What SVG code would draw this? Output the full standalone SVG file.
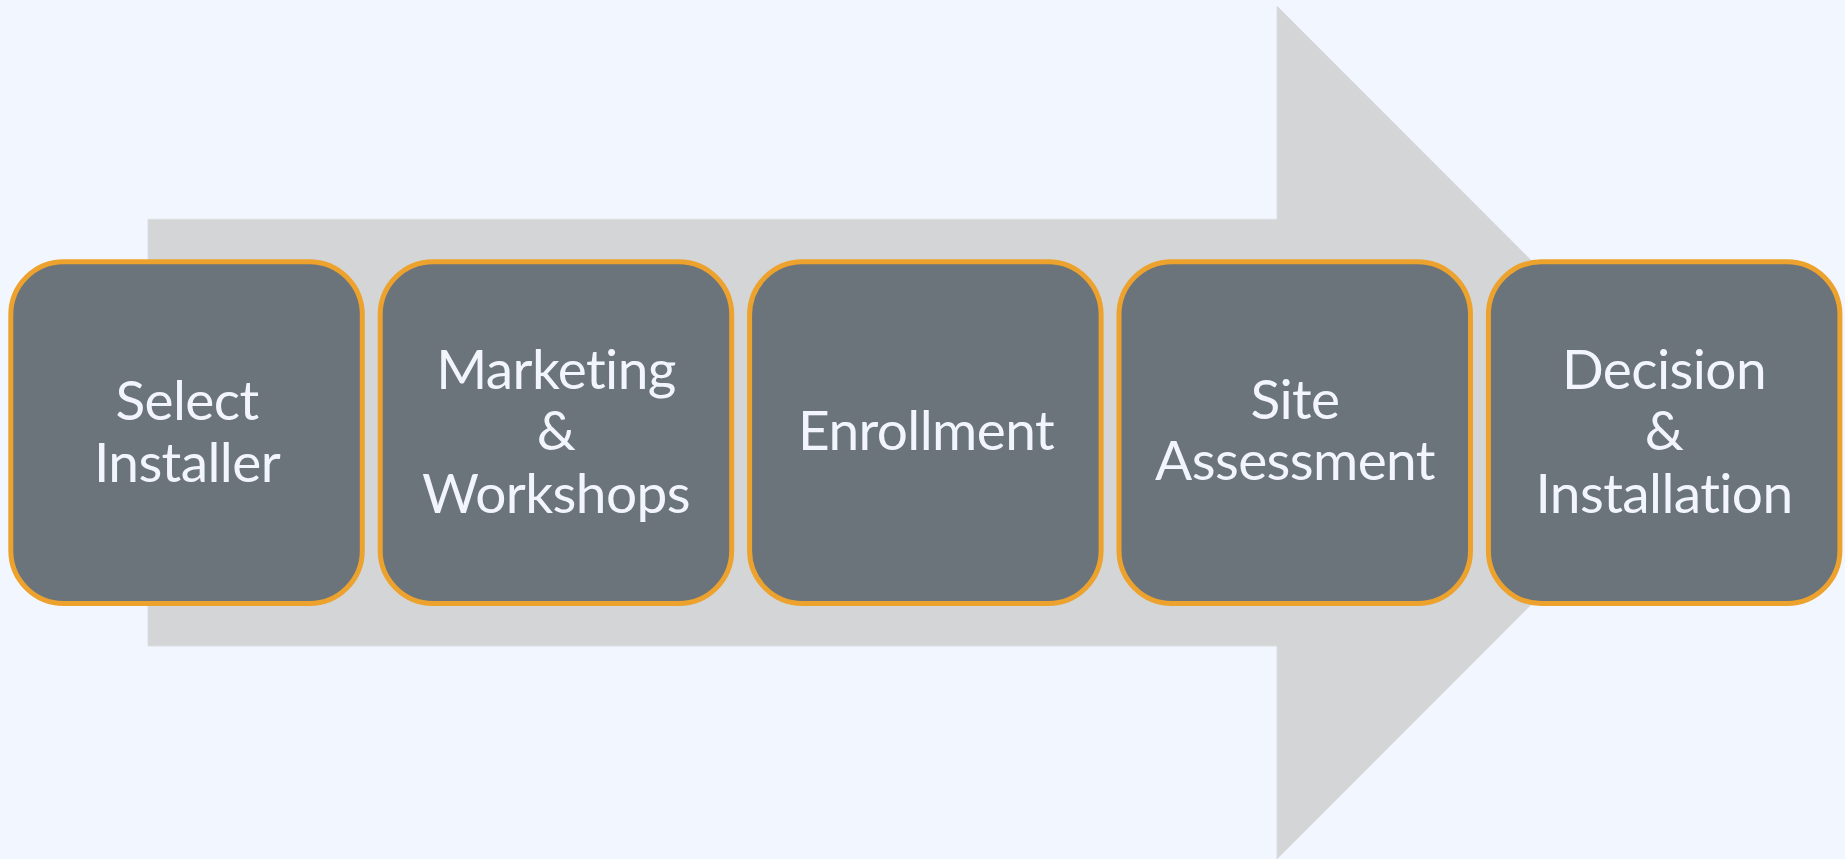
<svg xmlns="http://www.w3.org/2000/svg" width="1845" height="859" viewBox="0 0 1845 859">
<style>
.box{fill:#6b737b;stroke:#eda22d;stroke-width:5}
.lbl{font-family:Lato,"Open Sans","Liberation Sans",sans-serif;font-size:55px;letter-spacing:-0.6px;fill:#f2f5fc;text-anchor:middle;font-variant-ligatures:none;font-feature-settings:"liga" 0,"clig" 0}
</style>
<rect width="1845" height="859" fill="#f2f6fe"/>
<g id="arrow">
<polygon points="148,219.3 1277,219.3 1277,6 1703,432.5 1277,859 1277,646 148,646" fill="#d4d5d7" stroke="#dcdee2" stroke-width="1"/>
</g>
<g id="connectors"></g>
<g id="node1">
<rect class="box" x="10.8" y="261.8" width="351.5" height="341.7" rx="53"/>
<text class="lbl" x="187" y="420">Select</text>
<text class="lbl" x="187" y="481.7">Installer</text>
</g>
<g id="node2">
<rect class="box" x="380.2" y="261.8" width="351.5" height="341.7" rx="53"/>
<text class="lbl" x="556" y="389.3">Marketing</text>
<text class="lbl" x="556" y="450">&amp;</text>
<text class="lbl" x="556" y="512.7">Workshops</text>
</g>
<g id="node3">
<rect class="box" x="749.6" y="261.8" width="351.5" height="341.7" rx="53"/>
<text class="lbl" x="926" y="450">Enrollment</text>
</g>
<g id="node4">
<rect class="box" x="1119" y="261.8" width="351.5" height="341.7" rx="53"/>
<text class="lbl" x="1295" y="419.3">Site</text>
<text class="lbl" x="1295" y="480">Assessment</text>
</g>
<g id="node5">
<rect class="box" x="1488.4" y="261.8" width="351.5" height="341.7" rx="53"/>
<text class="lbl" x="1664" y="389.3">Decision</text>
<text class="lbl" x="1664" y="450">&amp;</text>
<text class="lbl" x="1664" y="512.7">Installation</text>
</g>
</svg>
